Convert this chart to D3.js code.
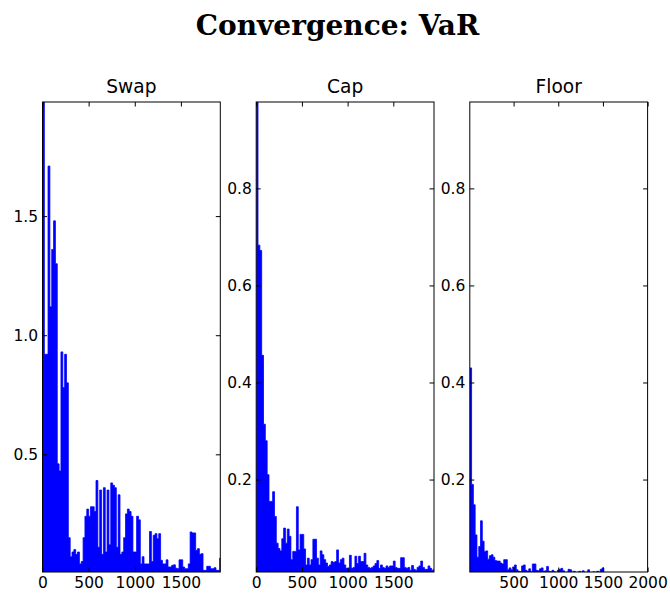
<!DOCTYPE html>
<html><head><meta charset="utf-8">
<script src="https://cdn.jsdelivr.net/npm/d3@7/dist/d3.min.js"></script>
<style>body{margin:0;background:#fff}svg{display:block}</style>
</head><body>
<svg id="chart" width="670" height="597"></svg>
<script>
// ---------- data ----------
const chartTitle = "Convergence: VaR";
const panelNames = ["Swap", "Cap", "Floor"];
const binStep = 20;            // iterations covered by each value
const swapStart = 0, capStart = 0, floorStart = 10;

// peak level of the (dense) VaR trace in each 20-iteration bin
const swapVals = [3.0,0.92,0.92,1.71,1.12,1.36,1.48,1.30,0.46,0.43,
 0.93,0.78,0.92,0.80,0.15,0.07,0.09,0.10,0.08,0.09,
 0.04,0.05,0.15,0.24,0.27,0.24,0.28,0.28,0.26,0.39,
 0.11,0.35,0.08,0.36,0.09,0.35,0.12,0.38,0.37,0.36,
 0.11,0.33,0.08,0.09,0.15,0.25,0.27,0.26,0.24,0.09,
 0.09,0.24,0.225,0.04,0.07,0.04,0.04,0.04,0.176,0.05,
 0.16,0.167,0.146,0.167,0.055,0.04,0.04,0.057,0.027,0.027,
 0.034,0.036,0.022,0.02,0.057,0.057,0.027,0.02,0.02,0.04,
 0.174,0.17,0.17,0.097,0.104,0.08,0.083,0.013,0.013,0.03,
 0.03,0.02,0.02,0.024,0.013,0.013,0.064];

const capVals = [1.4,0.683,0.672,0.456,0.314,0.28,0.21,0.155,0.155,0.175,
 0.124,0.069,0.058,0.053,0.078,0.10,0.069,0.098,0.083,0.035,
 0.052,0.052,0.144,0.055,0.087,0.087,0.057,0.024,0.038,0.024,
 0.035,0.077,0.077,0.038,0.024,0.053,0.045,0.035,0.028,0.021,
 0.024,0.031,0.029,0.031,0.055,0.028,0.035,0.038,0.024,0.017,
 0.017,0.044,0.017,0.019,0.042,0.027,0.042,0.031,0.031,0.048,
 0.024,0.019,0.017,0.019,0.022,0.027,0.033,0.017,0.024,0.019,
 0.017,0.022,0.019,0.022,0.022,0.032,0.019,0.017,0.017,0.039,
 0.039,0.019,0.017,0.019,0.013,0.023,0.015,0.013,0.019,0.022,
 0.032,0.019,0.015,0.015,0.022,0.017,0.013,0.015];

const floorVals = [0.43,0.19,0.148,0.086,0.04,0.062,0.115,0.073,0.052,0.053,
 0.036,0.043,0.045,0.04,0.033,0.032,0.032,0.028,0.026,0.035,
 0.035,0.014,0.018,0.014,0.02,0.024,0.014,0.011,0.01,0.022,
 0.024,0.013,0.011,0.016,0.01,0.026,0.026,0.013,0.012,0.016,
 0.018,0.011,0.012,0.021,0.011,0.010,0.013,0.01,0.009,0.013,
 0.015,0.017,0.012,0.009,0.009,0.015,0.014,0.009,0.011,0.008,
 0.009,0.011,0.009,0.012,0.009,0.009,0.014,0.008,0.009,0.01,
 0.008,0.011,0.009,0.015,0.018,0.008];

const swapXDomain = [0, 1927], swapYDomain = [0.006, 1.979];
const capXDomain = [0, 1945], capYDomain = [0.0095, 0.978];
const floorXDomain = [10, 2000], floorYDomain = [0.0095, 0.978];
const swapXTicks = [0, 500, 1000, 1500], swapYTicks = [0.5, 1.0, 1.5];
const capXTicks = [0, 500, 1000, 1500], capYTicks = [0.2, 0.4, 0.6, 0.8];
const floorXTicks = [500, 1000, 1500, 2000], floorYTicks = [0.2, 0.4, 0.6, 0.8];

// ---------- layout ----------
const svg = d3.select("#chart");
const axTop = 102, axBottom = 572, panelW = 177.8;
const lefts = [42.5, 256.2, 469.8];
const tickLen = 4.5;
const tickFont = "DejaVu Sans, sans-serif";
const blue = "#0000ff";

svg.append("text")
  .attr("x", 337.5).attr("y", 34.5)
  .attr("text-anchor", "middle")
  .attr("font-family", "DejaVu Serif, serif")
  .attr("font-weight", "bold")
  .attr("font-size", 28)
  .text(chartTitle);

const panels = [
  {vals: swapVals, start: swapStart, xd: swapXDomain, yd: swapYDomain, xt: swapXTicks, yt: swapYTicks},
  {vals: capVals, start: capStart, xd: capXDomain, yd: capYDomain, xt: capXTicks, yt: capYTicks},
  {vals: floorVals, start: floorStart, xd: floorXDomain, yd: floorYDomain, xt: floorXTicks, yt: floorYTicks}
];

panels.forEach((p, k) => {
  const left = lefts[k], right = left + panelW;
  const x = d3.scaleLinear().domain(p.xd).range([left, right]);
  const y = d3.scaleLinear().domain(p.yd).range([axBottom, axTop]);

  // each value holds for its bin: [binStart, binStart + binStep)
  const pts = p.vals.map((v, i) => [p.start + i * binStep, v]);
  const last = pts[pts.length - 1];
  pts.push([last[0] + binStep, last[1]]);

  const clipId = "clip" + k;
  svg.append("clipPath").attr("id", clipId)
    .append("rect").attr("x", left).attr("y", axTop)
    .attr("width", panelW).attr("height", axBottom - axTop);

  const gPlot = svg.append("g").attr("clip-path", `url(#${clipId})`);
  gPlot.append("path")
    .datum(pts)
    .attr("fill", blue)
    .attr("stroke", "none")
    .attr("d", d3.area().curve(d3.curveStepAfter)
      .x(d => x(d[0])).y0(axBottom + 2).y1(d => y(d[1])));
  gPlot.append("path")
    .datum(pts)
    .attr("fill", "none")
    .attr("stroke", blue)
    .attr("stroke-width", 0.8)
    .attr("d", d3.line().curve(d3.curveStepAfter)
      .x(d => x(d[0])).y(d => y(d[1])));

  const fmtY = d3.format(".1f");
  const gL = svg.append("g").attr("transform", `translate(${left},0)`)
    .call(d3.axisLeft(y).tickValues(p.yt).tickSizeInner(-tickLen).tickSizeOuter(0).tickPadding(4.4).tickFormat(fmtY));
  const gR = svg.append("g").attr("transform", `translate(${right},0)`)
    .call(d3.axisRight(y).tickValues(p.yt).tickSizeInner(-tickLen).tickSizeOuter(0).tickFormat(""));
  const gB = svg.append("g").attr("transform", `translate(0,${axBottom})`)
    .call(d3.axisBottom(x).tickValues(p.xt).tickSizeInner(-tickLen).tickSizeOuter(0).tickPadding(4.7).tickFormat(d3.format("d")));
  const gT = svg.append("g").attr("transform", `translate(0,${axTop})`)
    .call(d3.axisTop(x).tickValues(p.xt).tickSizeInner(-tickLen).tickSizeOuter(0).tickFormat(""));
  [gL, gR, gB, gT].forEach(g => {
    g.select(".domain").remove();
    g.selectAll(".tick line").attr("stroke", "#000").attr("stroke-width", 1);
    g.selectAll(".tick text").attr("font-family", tickFont).attr("font-size", 15.5).attr("fill", "#000");
  });

  svg.append("rect")
    .attr("x", left).attr("y", axTop)
    .attr("width", panelW).attr("height", axBottom - axTop)
    .attr("fill", "none").attr("stroke", "#000").attr("stroke-width", 1);

  svg.append("text")
    .attr("x", (left + right) / 2).attr("y", 92.5)
    .attr("text-anchor", "middle")
    .attr("font-family", tickFont)
    .attr("font-size", 18.6)
    .text(panelNames[k]);
});
</script>
</body></html>
